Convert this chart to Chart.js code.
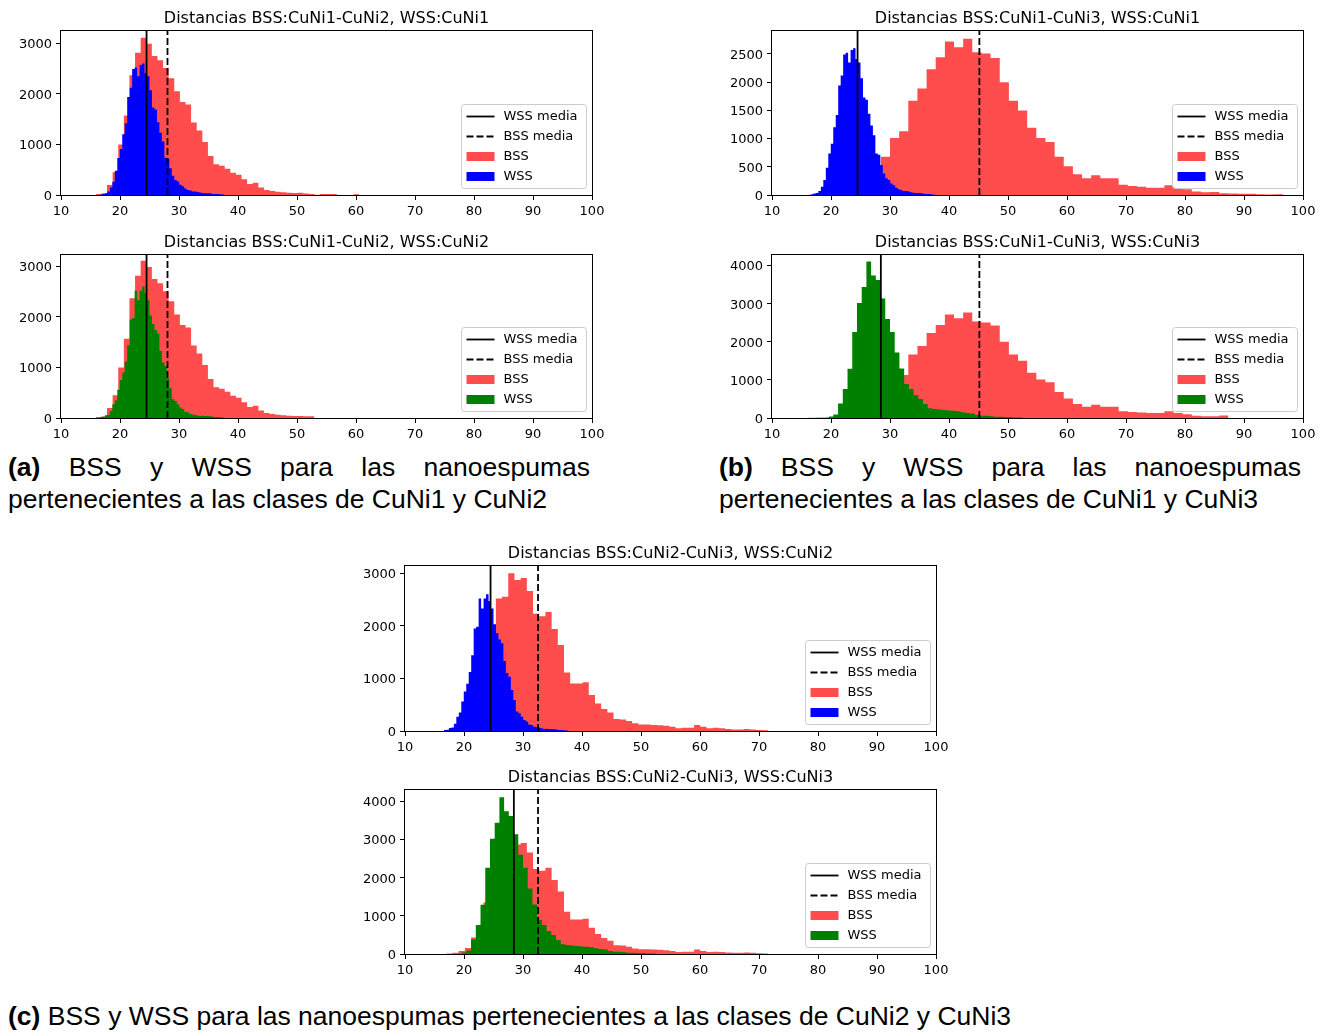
<!DOCTYPE html>
<html><head><meta charset="utf-8">
<script src="https://cdn.jsdelivr.net/npm/chart.js@4.4.0/dist/chart.umd.min.js"></script>
<style>
html,body{margin:0;padding:0;background:#fff}
body{width:1328px;height:1032px;position:relative;overflow:hidden}
.plot{position:absolute}
.plot canvas{display:block}
.cap{position:absolute;font-family:'Liberation Sans',Arial,Helvetica,sans-serif;font-size:26.5px;line-height:32px;color:#000;text-align:justify;text-align-last:left}
.cap b{font-weight:bold}
</style></head><body>
<div class="plot" style="left:1px;top:0px"><canvas id="c1" width="611" height="223"></canvas></div>
<div class="plot" style="left:1px;top:224px"><canvas id="c2" width="611" height="222"></canvas></div>
<div class="plot" style="left:712px;top:0px"><canvas id="c3" width="611" height="223"></canvas></div>
<div class="plot" style="left:712px;top:224px"><canvas id="c4" width="611" height="222"></canvas></div>
<div class="plot" style="left:345px;top:535px"><canvas id="c5" width="611" height="224"></canvas></div>
<div class="plot" style="left:345px;top:759px"><canvas id="c6" width="611" height="223"></canvas></div>

<div class="cap" style="left:8px;top:451px;width:582px"><b>(a)</b> BSS y WSS para las nanoespumas pertenecientes a las clases de CuNi1 y CuNi2</div>
<div class="cap" style="left:719px;top:451px;width:582px"><b>(b)</b> BSS y WSS para las nanoespumas pertenecientes a las clases de CuNi1 y CuNi3</div>
<div class="cap" style="left:8px;top:1000px;width:1200px;text-align:left"><b>(c)</b> BSS y WSS para las nanoespumas pertenecientes a las clases de CuNi2 y CuNi3</div>

<script>
// ---------- data ----------
const xTicks = [10, 20, 30, 40, 50, 60, 70, 80, 90, 100];
const yTicks1 = [0, 1000, 2000, 3000];
const yTicks2 = [0, 1000, 2000, 3000];
const yTicks3 = [0, 500, 1000, 1500, 2000, 2500];
const yTicks4 = [0, 1000, 2000, 3000, 4000];
const yTicks5 = [0, 1000, 2000, 3000];
const yTicks6 = [0, 1000, 2000, 3000, 4000];

const titles = [
  'Distancias BSS:CuNi1-CuNi2, WSS:CuNi1',
  'Distancias BSS:CuNi1-CuNi2, WSS:CuNi2',
  'Distancias BSS:CuNi1-CuNi3, WSS:CuNi1',
  'Distancias BSS:CuNi1-CuNi3, WSS:CuNi3',
  'Distancias BSS:CuNi2-CuNi3, WSS:CuNi2',
  'Distancias BSS:CuNi2-CuNi3, WSS:CuNi3'
];
const legendLabels = ['WSS media', 'BSS media', 'BSS', 'WSS'];

const wssMeans = [24.5, 24.5, 24.5, 28.45, 24.5, 28.45];
const bssMeans = [28.05, 28.05, 45.15, 45.15, 32.55, 32.55];

// BSS CuNi1-CuNi2 (bin start / width, counts)
const bss12Start = 15.9, bss12Width = 0.95;
const bss12Counts = [20, 30, 200, 450, 1000, 1570, 2370, 2815, 3110, 2990, 2750, 2665, 2510, 2310, 2050, 1840, 1790, 1435, 1275, 1050, 770, 610, 580, 520, 440, 400, 310, 220, 240, 150, 100, 80, 65, 55, 45, 40, 45, 30, 20, 5, 20, 20, 20, 0, 0, 0, 15];
const bss12bCounts = [20, 30, 200, 450, 1000, 1570, 2370, 2815, 3110, 2990, 2750, 2665, 2510, 2310, 2050, 1840, 1790, 1435, 1275, 1050, 770, 610, 580, 520, 440, 400, 310, 220, 240, 150, 100, 80, 65, 55, 45, 40, 40, 35, 35];

// BSS CuNi1-CuNi3
const bss13Start = 16.05, bss13Width = 1.55;
const bss13Counts = [5, 10, 20, 40, 70, 120, 200, 400, 680, 1010, 1130, 1670, 1890, 2230, 2440, 2720, 2620, 2770, 2530, 2510, 2430, 2000, 1670, 1500, 1190, 1010, 940, 680, 510, 370, 295, 350, 295, 295, 180, 160, 145, 130, 130, 175, 130, 100, 60, 50, 55, 30, 25, 20, 20, 15, 10, 15];
const bss13bCounts = [5, 10, 20, 40, 70, 120, 200, 400, 680, 1010, 1130, 1670, 1890, 2230, 2440, 2720, 2620, 2770, 2530, 2510, 2430, 2000, 1670, 1500, 1190, 1010, 940, 680, 510, 370, 295, 350, 295, 295, 180, 160, 145, 130, 130, 175, 130, 100, 60, 45, 45, 65];

// BSS CuNi2-CuNi3
const bss23Start = 17.0, bss23Width = 1.05;
const bss23Counts = [10, 30, 80, 160, 430, 750, 1350, 2000, 2520, 2550, 3000, 2870, 2910, 2660, 2230, 2180, 2260, 1940, 1635, 1110, 905, 905, 925, 685, 525, 420, 350, 230, 220, 190, 145, 125, 125, 115, 110, 100, 80, 50, 60, 60, 115, 80, 50, 60, 50, 40, 30, 30, 40, 30, 20, 15];

// WSS CuNi1 and CuNi2 (same binning)
const wssStart = 16.6, wssWidth = 0.42;
const wss1Counts = [12, 25, 35, 70, 147, 264, 481, 734, 910, 1200, 1420, 1940, 2120, 2490, 2520, 2350, 2570, 2600, 2410, 2350, 2070, 1730, 1690, 1440, 1230, 1060, 735, 715, 530, 380, 295, 265, 205, 175, 130, 100, 88, 70, 70, 60, 47, 41, 35, 35, 35, 20, 18, 18, 15, 10];
const wss2Counts = [20, 25, 55, 65, 140, 270, 350, 560, 750, 900, 1120, 1440, 1950, 1980, 2520, 2330, 2520, 2600, 2470, 2330, 2030, 1860, 1740, 1670, 1330, 1100, 1030, 780, 590, 370, 335, 270, 210, 180, 125, 115, 80, 70, 60, 50, 40, 45, 40, 40, 35, 30, 20, 20, 15, 10];

// WSS CuNi3
const wss3Start = 19.6, wss3Width = 0.8;
const wss3Counts = [40, 90, 380, 760, 1290, 2260, 3020, 3440, 4110, 3740, 3620, 3140, 2600, 2260, 1720, 1300, 890, 760, 600, 500, 370, 255, 235, 220, 210, 195, 190, 175, 150, 130, 120, 80, 60, 60, 45, 35, 35, 25, 25, 15, 10];

const yMaxes = [3263, 3245, 2925, 4305, 3155, 4325];

// ---------- helpers ----------
function histPoints(start, width, counts) {
  const pts = [{x: start, y: 0}];
  counts.forEach((c, i) => pts.push({x: start + i * width, y: c}));
  const end = start + counts.length * width;
  pts.push({x: end, y: counts[counts.length - 1]});
  pts.push({x: end, y: 0});
  return pts;
}

const framePlugin = {
  id: 'frame',
  afterDatasetsDraw(chart) {
    const a = chart.chartArea, ctx = chart.ctx;
    ctx.save();
    ctx.strokeStyle = '#000';
    ctx.lineWidth = 1;
    const l = Math.round(a.left) - 0.5, t = Math.round(a.top) + 0.5;
    const r = Math.round(a.right) + 0.5, b = Math.round(a.bottom) + 0.5;
    ctx.strokeRect(l, t, r - l, b - t);
    ctx.restore();
  }
};

const insideLegend = {
  id: 'insideLegend',
  afterDraw(chart) {
    const a = chart.chartArea, ctx = chart.ctx;
    const w = 125, h = 84, rowH = 20;
    const x0 = Math.round(a.right - 6 - w) + 0.5, y0 = Math.round(a.bottom - 7 - h) + 0.5;
    ctx.save();
    ctx.beginPath();
    const rr = 3;
    ctx.moveTo(x0 + rr, y0);
    ctx.arcTo(x0 + w, y0, x0 + w, y0 + h, rr);
    ctx.arcTo(x0 + w, y0 + h, x0, y0 + h, rr);
    ctx.arcTo(x0, y0 + h, x0, y0, rr);
    ctx.arcTo(x0, y0, x0 + w, y0, rr);
    ctx.closePath();
    ctx.fillStyle = 'rgba(255,255,255,0.8)';
    ctx.fill();
    ctx.strokeStyle = '#cccccc';
    ctx.lineWidth = 1;
    ctx.stroke();
    chart.data.datasets.forEach((ds, i) => {
      const cy = y0 + 12 + i * rowH;
      if (ds.legendKind === 'patch') {
        ctx.fillStyle = ds.backgroundColor;
        ctx.fillRect(x0 + 5, cy - 4.5, 28, 9);
      } else {
        ctx.beginPath();
        ctx.strokeStyle = ds.borderColor;
        ctx.lineWidth = ds.borderWidth;
        ctx.setLineDash(ds.borderDash || []);
        ctx.moveTo(x0 + 5, cy);
        ctx.lineTo(x0 + 33, cy);
        ctx.stroke();
        ctx.setLineDash([]);
      }
      ctx.fillStyle = '#000';
      ctx.font = '13px "DejaVu Sans"';
      ctx.textBaseline = 'middle';
      ctx.textAlign = 'left';
      ctx.fillText(ds.label, x0 + 42, cy);
    });
    ctx.restore();
  }
};

function makeChart(id, idx, bss, wss, wssColor, yTicks) {
  const yMax = yMaxes[idx];
  const tickFont = {family: 'DejaVu Sans', size: 13};
  const gridCfg = {drawOnChartArea: false, drawTicks: true, tickLength: 5, color: '#000', lineWidth: 1};
  return new Chart(document.getElementById(id), {
    type: 'line',
    data: {
      datasets: [
        {label: legendLabels[0], legendKind: 'line', data: [{x: wssMeans[idx], y: 0}, {x: wssMeans[idx], y: yMax}],
         borderColor: '#000', borderWidth: 1.8, pointRadius: 0, fill: false, order: 0},
        {label: legendLabels[1], legendKind: 'dash', data: [{x: bssMeans[idx], y: 0}, {x: bssMeans[idx], y: yMax}],
         borderColor: '#000', borderWidth: 1.8, borderDash: [7, 3], pointRadius: 0, fill: false, order: 0},
        {label: legendLabels[2], legendKind: 'patch', data: histPoints(bss[0], bss[1], bss[2]), stepped: true,
         fill: 'origin', backgroundColor: 'rgba(255,0,0,0.7)', borderColor: 'rgba(0,0,0,0)', borderWidth: 0, pointRadius: 0, order: 2},
        {label: legendLabels[3], legendKind: 'patch', data: histPoints(wss[0], wss[1], wss[2]), stepped: true,
         fill: 'origin', backgroundColor: wssColor, borderColor: 'rgba(0,0,0,0)', borderWidth: 0, pointRadius: 0, order: 1}
      ]
    },
    options: {
      responsive: false, animation: false, devicePixelRatio: 1,
      layout: {padding: {left: 0, right: 20, top: 0, bottom: 0}},
      elements: {line: {tension: 0}},
      plugins: {
        legend: {display: false},
        tooltip: {enabled: false},
        title: {display: true, text: titles[idx], fullSize: false, color: '#000',
                font: {family: 'DejaVu Sans', size: 16, weight: 'normal', lineHeight: 1.2},
                padding: {top: 9, bottom: 1.8}}
      },
      scales: {
        x: {type: 'linear', min: 10, max: 100,
            afterBuildTicks: s => { s.ticks = xTicks.map(v => ({value: v})); },
            afterFit: s => { s.height = 28; },
            grid: gridCfg, border: {display: false},
            ticks: {color: '#000', font: tickFont, padding: 4, maxRotation: 0, autoSkip: false, callback: v => String(v)}},
        y: {type: 'linear', min: 0, max: yMax,
            afterBuildTicks: s => { s.ticks = yTicks.map(v => ({value: v})); },
            afterFit: s => { s.width = 60; },
            grid: gridCfg, border: {display: false},
            ticks: {color: '#000', font: tickFont, padding: 4, labelOffset: 1.5, autoSkip: false, callback: v => String(v)}}
      }
    },
    plugins: [framePlugin, insideLegend]
  });
}

makeChart('c1', 0, [bss12Start, bss12Width, bss12Counts], [wssStart, wssWidth, wss1Counts], '#0000ff', yTicks1);
makeChart('c2', 1, [bss12Start, bss12Width, bss12bCounts], [wssStart, wssWidth, wss2Counts], '#008000', yTicks2);
makeChart('c3', 2, [bss13Start, bss13Width, bss13Counts], [wssStart, wssWidth, wss1Counts], '#0000ff', yTicks3);
makeChart('c4', 3, [bss13Start, bss13Width, bss13bCounts], [wss3Start, wss3Width, wss3Counts], '#008000', yTicks4);
makeChart('c5', 4, [bss23Start, bss23Width, bss23Counts], [wssStart, wssWidth, wss2Counts], '#0000ff', yTicks5);
makeChart('c6', 5, [bss23Start, bss23Width, bss23Counts], [wss3Start, wss3Width, wss3Counts], '#008000', yTicks6);
</script>
</body></html>
